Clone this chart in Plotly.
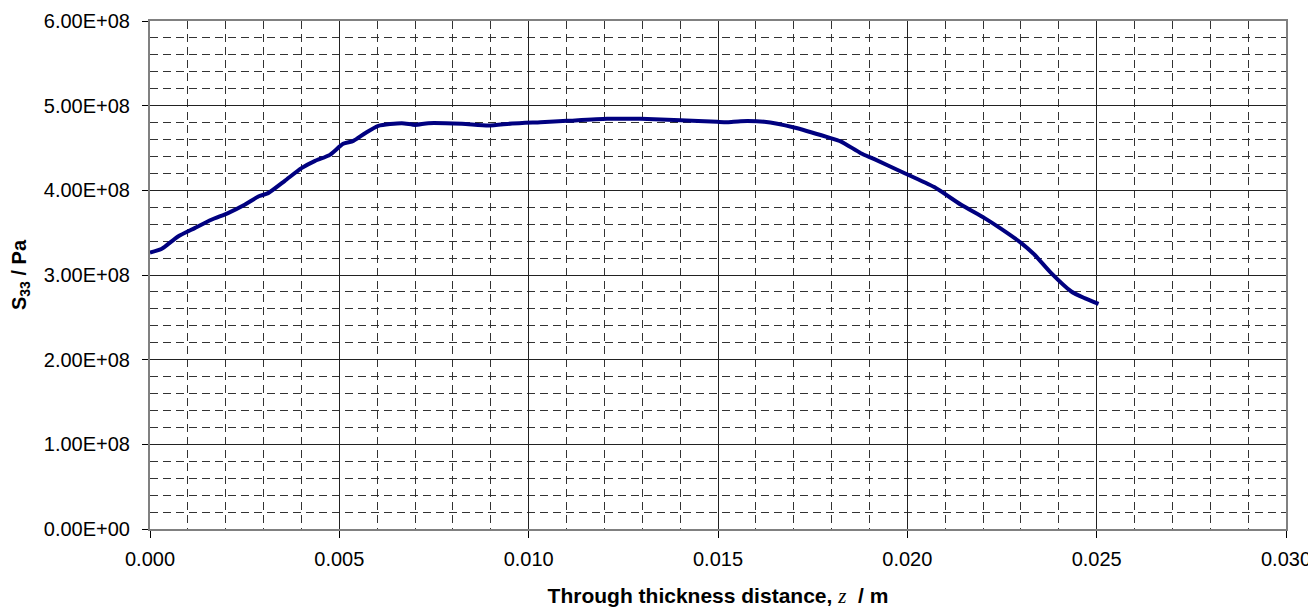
import plotly.graph_objects as go

# Through-thickness distance z (m)
z_m = [0, 0.0003, 0.00074, 0.00118, 0.00162, 0.00206, 0.0025, 0.00286, 0.00312,
       0.00356, 0.004, 0.00436, 0.00475, 0.0051, 0.00537, 0.00568, 0.00603,
       0.00665, 0.0070, 0.00735, 0.00824, 0.00894, 0.00956, 0.01031, 0.01102,
       0.01207, 0.01296, 0.01401, 0.01498, 0.01525, 0.0156, 0.01622, 0.01701,
       0.01789, 0.01825, 0.01877, 0.01913, 0.01983, 0.02071, 0.02142, 0.02204,
       0.02248, 0.02301, 0.02336, 0.0238, 0.02433, 0.02468, 0.02505]
# S33 stress (units of 1e8 Pa)
s33_e8 = [3.266, 3.306, 3.455, 3.554, 3.652, 3.731, 3.829, 3.927, 3.967,
          4.112, 4.262, 4.348, 4.419, 4.549, 4.584, 4.675, 4.761,
          4.793, 4.773, 4.793, 4.785, 4.765, 4.789, 4.805, 4.821,
          4.844, 4.844, 4.829, 4.809, 4.805, 4.817, 4.809, 4.742,
          4.628, 4.576, 4.439, 4.368, 4.222, 4.038, 3.829, 3.672,
          3.545, 3.377, 3.239, 3.022, 2.805, 2.727, 2.660]
s33_pa = [v * 1e8 for v in s33_e8]

y_tick_vals = [0, 1e8, 2e8, 3e8, 4e8, 5e8, 6e8]
y_tick_text = ["0.00E+00", "1.00E+08", "2.00E+08", "3.00E+08", "4.00E+08", "5.00E+08", "6.00E+08"]
x_tick_vals = [0, 0.005, 0.010, 0.015, 0.020, 0.025, 0.030]
x_tick_text = ["0.000", "0.005", "0.010", "0.015", "0.020", "0.025", "0.030"]

FONT = "Liberation Sans, Arial, sans-serif"

fig = go.Figure()
fig.add_trace(go.Scatter(
    x=z_m, y=s33_pa, mode="lines",
    line=dict(color="#000080", width=4, shape="spline", smoothing=0.6),
    showlegend=False, hoverinfo="skip",
))

# page body has an 8px default margin, so the figure is offset by 8px
fig.update_layout(
    width=1308, height=600,
    margin=dict(l=142, r=30, t=13, b=79),
    paper_bgcolor="white", plot_bgcolor="white",
    font=dict(family=FONT, size=20, color="black"),
)

fig.update_xaxes(
    range=[0, 0.030], tickvals=x_tick_vals, ticktext=x_tick_text,
    automargin=False,
    showline=True, linecolor="#808080", linewidth=2, mirror=True,
    ticks="outside", ticklen=7, tickcolor="black", tickwidth=1,
    ticklabelstandoff=4,
    showgrid=True, gridcolor="#222222", gridwidth=1,
    zeroline=False,
    minor=dict(dtick=0.001, tick0=0, showgrid=True, gridcolor="#333333",
               gridwidth=1, griddash="8px,5px", ticks=""),
    tickfont=dict(size=20),
    title=dict(
        text="<b>Through thickness distance, </b><span style=\"font-family:'Liberation Serif',serif;font-weight:normal\"><i>z</i></span><b>  / m</b>",
        font=dict(size=21), standoff=22),
)

fig.update_yaxes(
    range=[0, 6e8], tickvals=y_tick_vals, ticktext=y_tick_text,
    automargin=False,
    showline=True, linecolor="#808080", linewidth=2, mirror=True,
    ticks="outside", ticklen=6, tickcolor="black", tickwidth=1,
    ticklabelstandoff=8,
    showgrid=True, gridcolor="#222222", gridwidth=1,
    zeroline=False,
    minor=dict(dtick=2e7, tick0=0, showgrid=True, gridcolor="#333333",
               gridwidth=1, griddash="8px,5px", ticks=""),
    tickfont=dict(size=20),
    title=dict(text="<b>S<sub>33</sub> / Pa</b>", font=dict(size=20), standoff=18),
)

fig.write_html("out.html")
